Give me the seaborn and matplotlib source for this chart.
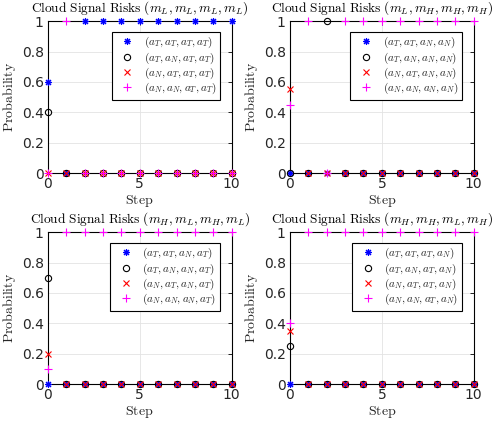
import numpy as np
import pandas as pd
import matplotlib
matplotlib.use("Agg")
import matplotlib.pyplot as plt
import seaborn as sns

sns.set_style("white")
plt.rcParams['font.family'] = ['DejaVu Sans']
plt.rcParams['mathtext.fontset'] = 'cm'

steps = list(range(11))

titles = [
    r"$\mathrm{Cloud\ Signal\ Risks}\ (m_L, m_L, m_L, m_L)$",
    r"$\mathrm{Cloud\ Signal\ Risks}\ (m_L, m_H, m_H, m_H)$",
    r"$\mathrm{Cloud\ Signal\ Risks}\ (m_H, m_L, m_H, m_L)$",
    r"$\mathrm{Cloud\ Signal\ Risks}\ (m_H, m_H, m_L, m_H)$",
]

labels_1 = [r"$(a_T, a_T, a_T, a_T)$", r"$(a_T, a_N, a_T, a_T)$",
            r"$(a_N, a_T, a_T, a_T)$", r"$(a_N, a_N, a_T, a_T)$"]
labels_2 = [r"$(a_T, a_T, a_N, a_N)$", r"$(a_T, a_N, a_N, a_N)$",
            r"$(a_N, a_T, a_N, a_N)$", r"$(a_N, a_N, a_N, a_N)$"]
labels_3 = [r"$(a_T, a_T, a_N, a_T)$", r"$(a_T, a_N, a_N, a_T)$",
            r"$(a_N, a_T, a_N, a_T)$", r"$(a_N, a_N, a_N, a_T)$"]
labels_4 = [r"$(a_T, a_T, a_T, a_N)$", r"$(a_T, a_N, a_T, a_N)$",
            r"$(a_N, a_T, a_T, a_N)$", r"$(a_N, a_N, a_T, a_N)$"]

# panel 1 series
p1_blue = [0.6, 0, 1, 1, 1, 1, 1, 1, 1, 1, 1]
p1_black = [0.4, 0, 0, 0, 0, 0, 0, 0, 0, 0, 0]
p1_red = [0, 0, 0, 0, 0, 0, 0, 0, 0, 0, 0]
p1_mag = [0, 1, 0, 0, 0, 0, 0, 0, 0, 0, 0]
# panel 2 series
p2_blue = [0, 0, 0, 0, 0, 0, 0, 0, 0, 0, 0]
p2_black = [0, 0, 1, 0, 0, 0, 0, 0, 0, 0, 0]
p2_red = [0.55, 0, 0, 0, 0, 0, 0, 0, 0, 0, 0]
p2_mag = [0.45, 1, 0, 1, 1, 1, 1, 1, 1, 1, 1]
# panel 3 series
p3_blue = [0, 0, 0, 0, 0, 0, 0, 0, 0, 0, 0]
p3_black = [0.7, 0, 0, 0, 0, 0, 0, 0, 0, 0, 0]
p3_red = [0.2, 0, 0, 0, 0, 0, 0, 0, 0, 0, 0]
p3_mag = [0.1, 1, 1, 1, 1, 1, 1, 1, 1, 1, 1]
# panel 4 series
p4_blue = [0, 0, 0, 0, 0, 0, 0, 0, 0, 0, 0]
p4_black = [0.25, 0, 0, 0, 0, 0, 0, 0, 0, 0, 0]
p4_red = [0.35, 0, 0, 0, 0, 0, 0, 0, 0, 0, 0]
p4_mag = [0.4, 1, 1, 1, 1, 1, 1, 1, 1, 1, 1]

panels = [
    (titles[0], labels_1, [p1_blue, p1_black, p1_red, p1_mag]),
    (titles[1], labels_2, [p2_blue, p2_black, p2_red, p2_mag]),
    (titles[2], labels_3, [p3_blue, p3_black, p3_red, p3_mag]),
    (titles[3], labels_4, [p4_blue, p4_black, p4_red, p4_mag]),
]

styles = [
    dict(marker=(8, 2, 0), color='#0000ff', mec='#0000ff', mfc='#0000ff', ms=5, mew=0.8),
    dict(marker='o', color='black', mec='black', mfc='none', ms=4.5, mew=0.8),
    dict(marker='x', color='#ff0000', mec='#ff0000', mfc='#ff0000', ms=4, mew=0.8),
    dict(marker='+', color='#ff00ff', mec='#ff00ff', mfc='#ff00ff', ms=5.5, mew=0.8),
]

fig = plt.figure(figsize=(4.94, 4.23), dpi=100)
positions = [
    [0.097, 0.591, 0.372, 0.359],
    [0.587, 0.591, 0.372, 0.359],
    [0.097, 0.092, 0.372, 0.359],
    [0.587, 0.092, 0.372, 0.359],
]

for pos, (title, labels, series) in zip(positions, panels):
    ax = fig.add_axes(pos)
    for vals, lab, st in zip(series, labels, styles):
        df = pd.DataFrame({"Step": steps, "Probability": vals})
        sns.lineplot(data=df, x="Step", y="Probability", ax=ax, label=lab,
                     linestyle='none', estimator=None, sort=False, **st)
    ax.set_xlim(0, 10)
    ax.set_ylim(0, 1)
    ax.set_xticks([0, 5, 10])
    ax.set_yticks([0, 0.2, 0.4, 0.6, 0.8, 1])
    ax.set_yticklabels(["0", "0.2", "0.4", "0.6", "0.8", "1"])
    ax.grid(True, color='#e3e3e3', linewidth=0.6)
    ax.set_axisbelow(True)
    for sp in ax.spines.values():
        sp.set_visible(True)
        sp.set_color('black')
        sp.set_linewidth(0.8)
    ax.tick_params(direction='in', length=3, width=0.6, top=True, right=True,
                   labelsize=10, colors='black', labelcolor='#262626', pad=3)
    ax.set_xlabel(r"$\mathrm{Step}$", fontsize=10, labelpad=1, color='#262626')
    ax.set_ylabel(r"$\mathrm{Probability}$", fontsize=10, labelpad=3, color='#262626')
    ax.set_title(title, fontsize=9.6, pad=7, color='black')
    for line in ax.lines:
        line.set_clip_on(False)
        line.set_zorder(3)
    leg = ax.legend(loc='upper right', bbox_to_anchor=(0.935, 0.93), fontsize=8,
                    frameon=True, fancybox=False, edgecolor='black', framealpha=1,
                    borderpad=0.3, handletextpad=0.4, labelspacing=0.0,
                    handlelength=2.2, borderaxespad=0.0)
    leg.set_zorder(5)
    leg.get_frame().set_linewidth(0.8)
    for t in leg.get_texts():
        t.set_color('#262626')

fig.savefig("out.png", dpi=100)
